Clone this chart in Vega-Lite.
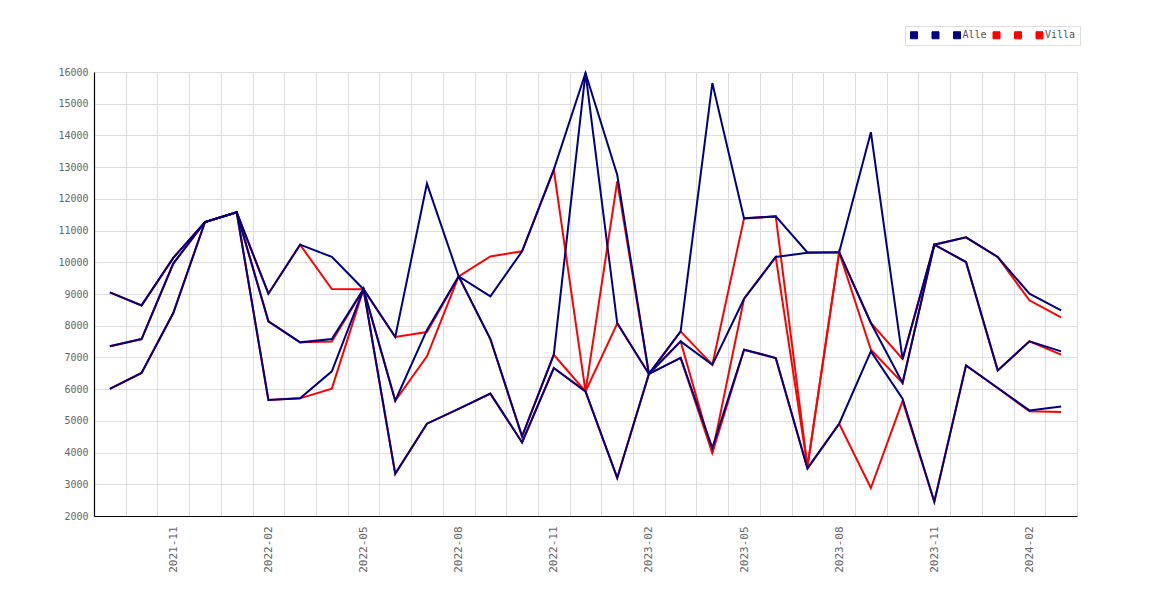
{
  "$schema": "https://vega.github.io/schema/vega-lite/v6.json",
  "width": 983,
  "height": 444,
  "autosize": {"type": "none"},
  "padding": {"left": 94, "top": 72, "right": 93, "bottom": 84},
  "background": "white",
  "config": {
    "view": {"stroke": null},
    "axis": {"labelFont": "DejaVu Sans Mono", "labelColor": "#666666", "gridColor": "#dddddd", "gridWidth": 1, "domainColor": "#000000", "domainWidth": 1.2, "ticks": false, "title": null}
  },
  "data": {"values": [
    {"m":"2021-09","s":"Alle_1","v":9050},{"m":"2021-09","s":"Alle_2","v":7350},{"m":"2021-09","s":"Alle","v":6010},{"m":"2021-09","s":"Villa_1","v":9050},{"m":"2021-09","s":"Villa_2","v":7350},{"m":"2021-09","s":"Villa","v":6010},
    {"m":"2021-10","s":"Alle_1","v":8640},{"m":"2021-10","s":"Alle_2","v":7580},{"m":"2021-10","s":"Alle","v":6510},{"m":"2021-10","s":"Villa_1","v":8640},{"m":"2021-10","s":"Villa_2","v":7580},{"m":"2021-10","s":"Villa","v":6510},
    {"m":"2021-11","s":"Alle_1","v":10140},{"m":"2021-11","s":"Alle_2","v":9960},{"m":"2021-11","s":"Alle","v":8400},{"m":"2021-11","s":"Villa_1","v":10140},{"m":"2021-11","s":"Villa_2","v":9960},{"m":"2021-11","s":"Villa","v":8400},
    {"m":"2021-12","s":"Alle_1","v":11270},{"m":"2021-12","s":"Alle_2","v":11270},{"m":"2021-12","s":"Alle","v":11270},{"m":"2021-12","s":"Villa_1","v":11270},{"m":"2021-12","s":"Villa_2","v":11270},{"m":"2021-12","s":"Villa","v":11270},
    {"m":"2022-01","s":"Alle_1","v":11575},{"m":"2022-01","s":"Alle_2","v":11575},{"m":"2022-01","s":"Alle","v":11575},{"m":"2022-01","s":"Villa_1","v":11575},{"m":"2022-01","s":"Villa_2","v":11575},{"m":"2022-01","s":"Villa","v":11575},
    {"m":"2022-02","s":"Alle_1","v":9010},{"m":"2022-02","s":"Alle_2","v":8140},{"m":"2022-02","s":"Alle","v":5660},{"m":"2022-02","s":"Villa_1","v":9010},{"m":"2022-02","s":"Villa_2","v":8140},{"m":"2022-02","s":"Villa","v":5660},
    {"m":"2022-03","s":"Alle_1","v":10555},{"m":"2022-03","s":"Alle_2","v":7475},{"m":"2022-03","s":"Alle","v":5710},{"m":"2022-03","s":"Villa_1","v":10555},{"m":"2022-03","s":"Villa_2","v":7475},{"m":"2022-03","s":"Villa","v":5710},
    {"m":"2022-04","s":"Alle_1","v":10170},{"m":"2022-04","s":"Alle_2","v":7580},{"m":"2022-04","s":"Alle","v":6560},{"m":"2022-04","s":"Villa_1","v":9155},{"m":"2022-04","s":"Villa_2","v":7505},{"m":"2022-04","s":"Villa","v":6015},
    {"m":"2022-05","s":"Alle_1","v":9150},{"m":"2022-05","s":"Alle_2","v":9150},{"m":"2022-05","s":"Alle","v":9150},{"m":"2022-05","s":"Villa_1","v":9150},{"m":"2022-05","s":"Villa_2","v":9150},{"m":"2022-05","s":"Villa","v":9150},
    {"m":"2022-06","s":"Alle_1","v":7645},{"m":"2022-06","s":"Alle_2","v":5635},{"m":"2022-06","s":"Alle","v":3330},{"m":"2022-06","s":"Villa_1","v":7645},{"m":"2022-06","s":"Villa_2","v":5635},{"m":"2022-06","s":"Villa","v":3330},
    {"m":"2022-07","s":"Alle_1","v":12480},{"m":"2022-07","s":"Alle_2","v":7870},{"m":"2022-07","s":"Alle","v":4910},{"m":"2022-07","s":"Villa_1","v":7800},{"m":"2022-07","s":"Villa_2","v":7035},{"m":"2022-07","s":"Villa","v":4910},
    {"m":"2022-08","s":"Alle_1","v":9555},{"m":"2022-08","s":"Alle_2","v":9555},{"m":"2022-08","s":"Alle","v":5375},{"m":"2022-08","s":"Villa_1","v":9555},{"m":"2022-08","s":"Villa_2","v":9555},{"m":"2022-08","s":"Villa","v":5375},
    {"m":"2022-09","s":"Alle_1","v":8925},{"m":"2022-09","s":"Alle_2","v":7580},{"m":"2022-09","s":"Alle","v":5860},{"m":"2022-09","s":"Villa_1","v":10185},{"m":"2022-09","s":"Villa_2","v":7580},{"m":"2022-09","s":"Villa","v":5860},
    {"m":"2022-10","s":"Alle_1","v":10345},{"m":"2022-10","s":"Alle_2","v":4510},{"m":"2022-10","s":"Alle","v":4320},{"m":"2022-10","s":"Villa_1","v":10345},{"m":"2022-10","s":"Villa_2","v":4510},{"m":"2022-10","s":"Villa","v":4320},
    {"m":"2022-11","s":"Alle_1","v":12920},{"m":"2022-11","s":"Alle_2","v":7085},{"m":"2022-11","s":"Alle","v":6665},{"m":"2022-11","s":"Villa_1","v":12920},{"m":"2022-11","s":"Villa_2","v":7085},{"m":"2022-11","s":"Villa","v":6665},
    {"m":"2022-12","s":"Alle_1","v":15970},{"m":"2022-12","s":"Alle_2","v":15970},{"m":"2022-12","s":"Alle","v":5930},{"m":"2022-12","s":"Villa_1","v":5930},{"m":"2022-12","s":"Villa_2","v":5930},{"m":"2022-12","s":"Villa","v":5930},
    {"m":"2023-01","s":"Alle_1","v":12760},{"m":"2023-01","s":"Alle_2","v":8085},{"m":"2023-01","s":"Alle","v":3200},{"m":"2023-01","s":"Villa_1","v":12550},{"m":"2023-01","s":"Villa_2","v":8070},{"m":"2023-01","s":"Villa","v":3200},
    {"m":"2023-02","s":"Alle_1","v":6480},{"m":"2023-02","s":"Alle_2","v":6480},{"m":"2023-02","s":"Alle","v":6480},{"m":"2023-02","s":"Villa_1","v":6480},{"m":"2023-02","s":"Villa_2","v":6480},{"m":"2023-02","s":"Villa","v":6480},
    {"m":"2023-03","s":"Alle_1","v":7820},{"m":"2023-03","s":"Alle_2","v":7505},{"m":"2023-03","s":"Alle","v":6985},{"m":"2023-03","s":"Villa_1","v":7820},{"m":"2023-03","s":"Villa_2","v":7505},{"m":"2023-03","s":"Villa","v":6985},
    {"m":"2023-04","s":"Alle_1","v":15650},{"m":"2023-04","s":"Alle_2","v":6770},{"m":"2023-04","s":"Alle","v":4150},{"m":"2023-04","s":"Villa_1","v":6770},{"m":"2023-04","s":"Villa_2","v":3990},{"m":"2023-04","s":"Villa","v":3990},
    {"m":"2023-05","s":"Alle_1","v":11385},{"m":"2023-05","s":"Alle_2","v":8850},{"m":"2023-05","s":"Alle","v":7245},{"m":"2023-05","s":"Villa_1","v":11385},{"m":"2023-05","s":"Villa_2","v":8850},{"m":"2023-05","s":"Villa","v":7245},
    {"m":"2023-06","s":"Alle_1","v":11447},{"m":"2023-06","s":"Alle_2","v":10167},{"m":"2023-06","s":"Alle","v":6982},{"m":"2023-06","s":"Villa_1","v":11447},{"m":"2023-06","s":"Villa_2","v":10167},{"m":"2023-06","s":"Villa","v":6982},
    {"m":"2023-07","s":"Alle_1","v":10310},{"m":"2023-07","s":"Alle_2","v":10300},{"m":"2023-07","s":"Alle","v":3500},{"m":"2023-07","s":"Villa_1","v":3560},{"m":"2023-07","s":"Villa_2","v":3560},{"m":"2023-07","s":"Villa","v":3500},
    {"m":"2023-08","s":"Alle_1","v":10315},{"m":"2023-08","s":"Alle_2","v":10315},{"m":"2023-08","s":"Alle","v":4910},{"m":"2023-08","s":"Villa_1","v":10315},{"m":"2023-08","s":"Villa_2","v":10315},{"m":"2023-08","s":"Villa","v":4910},
    {"m":"2023-09","s":"Alle_1","v":14100},{"m":"2023-09","s":"Alle_2","v":8086},{"m":"2023-09","s":"Alle","v":7190},{"m":"2023-09","s":"Villa_1","v":8086},{"m":"2023-09","s":"Villa_2","v":7244},{"m":"2023-09","s":"Villa","v":2883},
    {"m":"2023-10","s":"Alle_1","v":6950},{"m":"2023-10","s":"Alle_2","v":6194},{"m":"2023-10","s":"Alle","v":5700},{"m":"2023-10","s":"Villa_1","v":6950},{"m":"2023-10","s":"Villa_2","v":6194},{"m":"2023-10","s":"Villa","v":5630},
    {"m":"2023-11","s":"Alle_1","v":10555},{"m":"2023-11","s":"Alle_2","v":10555},{"m":"2023-11","s":"Alle","v":2450},{"m":"2023-11","s":"Villa_1","v":10555},{"m":"2023-11","s":"Villa_2","v":10555},{"m":"2023-11","s":"Villa","v":2450},
    {"m":"2023-12","s":"Alle_1","v":10785},{"m":"2023-12","s":"Alle_2","v":10009},{"m":"2023-12","s":"Alle","v":6750},{"m":"2023-12","s":"Villa_1","v":10785},{"m":"2023-12","s":"Villa_2","v":10009},{"m":"2023-12","s":"Villa","v":6750},
    {"m":"2024-01","s":"Alle_1","v":10167},{"m":"2024-01","s":"Alle_2","v":6592},{"m":"2024-01","s":"Alle","v":6036},{"m":"2024-01","s":"Villa_1","v":10167},{"m":"2024-01","s":"Villa_2","v":6592},{"m":"2024-01","s":"Villa","v":6036},
    {"m":"2024-02","s":"Alle_1","v":9010},{"m":"2024-02","s":"Alle_2","v":7506},{"m":"2024-02","s":"Alle","v":5330},{"m":"2024-02","s":"Villa_1","v":8800},{"m":"2024-02","s":"Villa_2","v":7506},{"m":"2024-02","s":"Villa","v":5300},
    {"m":"2024-03","s":"Alle_1","v":8483},{"m":"2024-03","s":"Alle_2","v":7191},{"m":"2024-03","s":"Alle","v":5456},{"m":"2024-03","s":"Villa_1","v":8263},{"m":"2024-03","s":"Villa_2","v":7087},{"m":"2024-03","s":"Villa","v":5280}
  ]},
  "encoding": {
    "x": {
      "field": "m", "type": "ordinal", "bandPosition": 0.5,
      "scale": {"type": "band", "paddingInner": 0, "paddingOuter": 0},
      "axis": {
        "tickBand": "extent", "grid": true, "labelAngle": -90, "labelPadding": 10, "labelFontSize": 11, "labelOverlap": false,
        "labelExpr": "indexof(['2021-11','2022-02','2022-05','2022-08','2022-11','2023-02','2023-05','2023-08','2023-11','2024-02'], datum.value) >= 0 ? datum.value : ''"
      }
    },
    "y": {
      "field": "v", "type": "quantitative",
      "scale": {"domain": [2000, 16000], "nice": false, "zero": false},
      "axis": {"values": [2000,3000,4000,5000,6000,7000,8000,9000,10000,11000,12000,13000,14000,15000,16000], "format": "d", "grid": true, "labelPadding": 6, "labelFontSize": 10}
    },
    "color": {
      "field": "s", "type": "nominal",
      "scale": {"domain": ["Alle_1","Alle_2","Alle","Villa_1","Villa_2","Villa"], "range": ["#000080","#000080","#000080","#ff0000","#ff0000","#ff0000"]},
      "legend": {
        "orient": "none", "legendX": 811, "legendY": -46, "direction": "horizontal", "title": null,
        "symbolType": "square", "symbolSize": 49, "symbolStrokeColor": "#666666", "symbolStrokeWidth": 1,
        "labelFont": "DejaVu Sans Mono", "labelFontSize": 10, "labelColor": "#555555", "labelOffset": 0.5, "columnPadding": 3.5,
        "padding": 4, "strokeColor": "#dddddd", "fillColor": "white",
        "labelExpr": "datum.label == 'Alle' || datum.label == 'Villa' ? datum.label : 'x'",
        "encode": {
          "symbols": {"update": {"fill": {"scale": "color", "field": "value"}, "fillOpacity": {"value": 1}, "stroke": {"value": "#666666"}}},
          "labels": {"update": {"opacity": {"signal": "datum.value == 'Alle' || datum.value == 'Villa' ? 1 : 0"}}}
        }
      }
    },
    "detail": {"field": "s"}
  },
  "layer": [
    {"transform": [{"filter": "indexof(datum.s, 'Villa') == 0"}], "mark": {"type": "line", "strokeWidth": 2}},
    {"transform": [{"filter": "indexof(datum.s, 'Alle') == 0"}], "mark": {"type": "line", "strokeWidth": 2}}
  ]
}
